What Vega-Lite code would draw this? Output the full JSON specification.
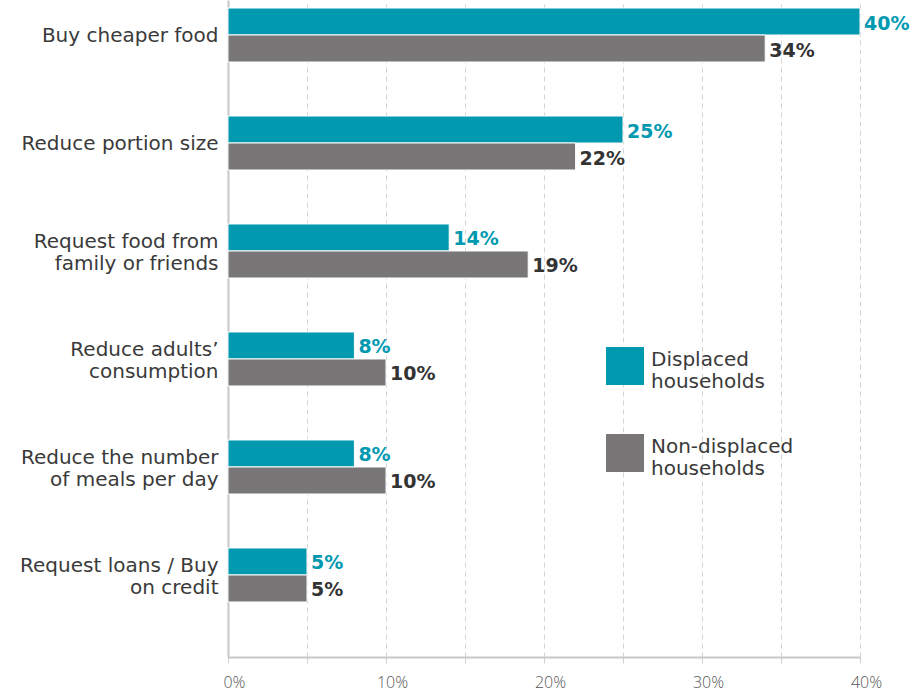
{
  "$schema": "https://vega.github.io/schema/vega-lite/v6.json",
  "width": 632,
  "height": 657,
  "autosize": {"type": "none"},
  "padding": {"left": 228, "top": 0, "right": 53, "bottom": 35},
  "background": "white",
  "config": {
    "view": {"stroke": null},
    "font": "DejaVu Sans"
  },
  "data": {
    "values": [
      {"strategy": "Buy cheaper food", "group": "Displaced households", "value": 0.40},
      {"strategy": "Buy cheaper food", "group": "Non-displaced households", "value": 0.34},
      {"strategy": "Reduce portion size", "group": "Displaced households", "value": 0.25},
      {"strategy": "Reduce portion size", "group": "Non-displaced households", "value": 0.22},
      {"strategy": "Request food from|family or friends", "group": "Displaced households", "value": 0.14},
      {"strategy": "Request food from|family or friends", "group": "Non-displaced households", "value": 0.19},
      {"strategy": "Reduce adults’|consumption", "group": "Displaced households", "value": 0.08},
      {"strategy": "Reduce adults’|consumption", "group": "Non-displaced households", "value": 0.10},
      {"strategy": "Reduce the number|of meals per day", "group": "Displaced households", "value": 0.08},
      {"strategy": "Reduce the number|of meals per day", "group": "Non-displaced households", "value": 0.10},
      {"strategy": "Request loans / Buy|on credit", "group": "Displaced households", "value": 0.05},
      {"strategy": "Request loans / Buy|on credit", "group": "Non-displaced households", "value": 0.05}
    ]
  },
  "encoding": {
    "y": {
      "field": "strategy",
      "type": "nominal",
      "sort": null,
      "title": null,
      "scale": {"paddingInner": 0.5, "paddingOuter": 0.2917, "align": 0.127},
      "axis": {
        "ticks": false,
        "domainColor": "#c8c8c8",
        "domainWidth": 2,
        "labelExpr": "split(datum.label, '|')",
        "labelFontSize": 20,
        "labelColor": "#3a3a3a",
        "labelPadding": 10,
        "labelLineHeight": 22,
        "labelLimit": 260,
        "labelOffset": {"condition": {"test": "indexof(datum.value, '|') >= 0", "value": -9}, "value": 1},
        "grid": false
      }
    },
    "yOffset": {
      "field": "group",
      "type": "nominal",
      "sort": ["Displaced households", "Non-displaced households"],
      "scale": {"paddingInner": 0, "paddingOuter": 0}
    },
    "x": {
      "field": "value",
      "type": "quantitative",
      "title": null,
      "scale": {"domain": [0, 0.4], "nice": false},
      "axis": {
        "values": [0, 0.05, 0.1, 0.15, 0.2, 0.25, 0.3, 0.35, 0.4],
        "labelExpr": "round(datum.value * 100) % 10 === 0 ? format(datum.value, '.0%') : ''",
        "grid": true,
        "gridDash": [5, 4],
        "gridColor": "#d4d4d4",
        "gridWidth": 1,
        "domainColor": "#c8c8c8",
        "domainWidth": 2,
        "tickColor": "#d0d0d0",
        "tickSize": 6,
        "labelFont": "Open Sans",
        "labelFontSize": 16,
        "labelColor": "#555555",
        "labelFontWeight": 300,
        "labelPadding": 11,
        "labelOffset": 6,
        "labelFlush": false
      }
    }
  },
  "layer": [
    {
      "mark": {"type": "bar", "stroke": "white", "strokeWidth": 1},
      "encoding": {
        "color": {
          "field": "group",
          "type": "nominal",
          "scale": {
            "domain": ["Displaced households", "Non-displaced households"],
            "range": ["#0099b0", "#787676"]
          },
          "legend": {
            "title": null,
            "orient": "none",
            "legendX": 378,
            "legendY": 347,
            "symbolType": "square",
            "symbolSize": 1444,
            "symbolStrokeWidth": 0,
            "labelFontSize": 20,
            "labelColor": "#3a3a3a",
            "labelExpr": "split(datum.label, ' ')",
            "labelBaseline": "alphabetic",
            "labelLimit": 300,
            "labelOffset": 7,
            "rowPadding": 42,
            "symbolOpacity": 1
          }
        }
      }
    },
    {
      "mark": {"type": "text", "align": "left", "baseline": "middle", "dx": 4, "dy": 2, "fontSize": 19, "fontWeight": "bold"},
      "encoding": {
        "text": {"field": "value", "type": "quantitative", "format": ".0%"},
        "color": {
          "field": "group",
          "type": "nominal",
          "scale": {
            "domain": ["Displaced households", "Non-displaced households"],
            "range": ["#0099b0", "#333333"]
          },
          "legend": null
        }
      }
    }
  ],
  "resolve": {"scale": {"color": "independent"}}
}
